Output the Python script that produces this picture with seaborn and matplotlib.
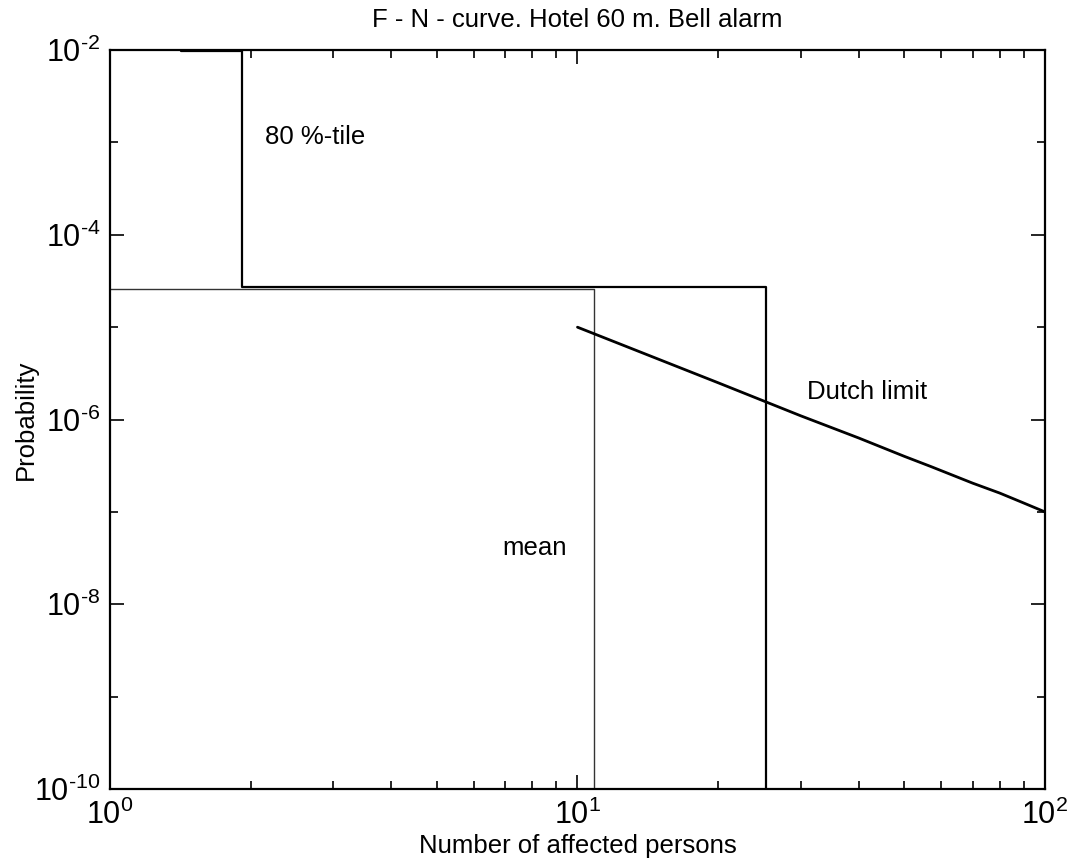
import numpy as np
import pandas as pd
import matplotlib
matplotlib.use("Agg")
import matplotlib.pyplot as plt
import matplotlib.ticker as mticker
import seaborn as sns

# 80 %-tile step curve (corner points)
p80_n = [1.42, 1.92, 1.92, 25.3, 25.3]
p80_f = [9.8e-3, 9.8e-3, 2.75e-5, 2.75e-5, 1e-10]

# mean step curve
mean_n = [1.0, 10.85, 10.85]
mean_f = [2.62e-5, 2.62e-5, 1e-10]

# Dutch limit line
dutch_n = [10, 20, 30, 40, 50, 57, 70, 80, 90, 100]
dutch_f = [1.0e-5, 2.5e-6, 1.1e-6, 6.3e-7, 4.0e-7, 3.1e-7, 2.05e-7, 1.6e-7, 1.25e-7, 1.0e-7]

sns.set_style("ticks")
plt.rcParams['font.family'] = ['Liberation Sans', 'DejaVu Sans']
plt.rcParams['mathtext.fontset'] = 'custom'
plt.rcParams['mathtext.rm'] = 'Liberation Sans'
plt.rcParams['mathtext.it'] = 'Liberation Sans'
for k in ['text.color', 'axes.labelcolor', 'xtick.color', 'ytick.color', 'axes.edgecolor']:
    plt.rcParams[k] = 'black'

fs = 18.5

df80 = pd.DataFrame({'n': p80_n, 'f': p80_f})
dfm = pd.DataFrame({'n': mean_n, 'f': mean_f})
dfd = pd.DataFrame({'n': dutch_n, 'f': dutch_f})

fig, ax = plt.subplots(figsize=(10.75, 8.64), dpi=100)
fig.subplots_adjust(left=0.1023, right=0.9721, top=0.942, bottom=0.0868)

sns.lineplot(x='n', y='f', data=dfm, ax=ax, sort=False, estimator=None, color='#333333', linewidth=1.0)
sns.lineplot(x='n', y='f', data=df80, ax=ax, sort=False, estimator=None, color='black', linewidth=1.6)
sns.lineplot(x='n', y='f', data=dfd, ax=ax, sort=False, estimator=None, color='black', linewidth=2.0)

ax.set_xscale('log')
ax.set_yscale('log')
ax.set_xlim(1, 100)
ax.set_ylim(1e-10, 1e-2)


def pow_fmt(v, pos):
    e = int(round(np.log10(v)))
    if e < 0:
        return r'$\mathdefault{10^{\text{-}%d}}$' % (-e)
    return r'$\mathdefault{10^{%d}}$' % e


ax.yaxis.set_major_locator(mticker.FixedLocator([1e-10, 1e-8, 1e-6, 1e-4, 1e-2]))
ax.yaxis.set_minor_locator(mticker.FixedLocator([1e-9, 1e-7, 1e-5, 1e-3]))
ax.yaxis.set_minor_formatter(mticker.NullFormatter())
ax.yaxis.set_major_formatter(mticker.FuncFormatter(pow_fmt))
ax.xaxis.set_major_locator(mticker.FixedLocator([1, 10, 100]))
ax.xaxis.set_minor_locator(mticker.LogLocator(base=10, subs=np.arange(2, 10), numticks=20))
ax.xaxis.set_minor_formatter(mticker.NullFormatter())
ax.xaxis.set_major_formatter(mticker.FuncFormatter(pow_fmt))

ax.tick_params(which='both', direction='in', top=True, right=True, labelsize=22, width=1.2)
ax.tick_params(axis='y', pad=7)
ax.tick_params(axis='x', pad=8)
ax.tick_params(which='major', length=10)
ax.tick_params(which='minor', length=6)
for s in ax.spines.values():
    s.set_linewidth(1.6)

ax.text(2.15, 1.15e-3, '80 %-tile', fontsize=fs, va='center', ha='left')
ax.text(31, 2.0e-6, 'Dutch limit', fontsize=fs, va='center', ha='left')
ax.text(6.9, 4.1e-8, 'mean', fontsize=fs, va='center', ha='left')

ax.set_title('F - N - curve. Hotel 60 m. Bell alarm', fontsize=fs, pad=17)
ax.set_xlabel('Number of affected persons', fontsize=fs, labelpad=2)
ax.set_ylabel('Probability', fontsize=fs, labelpad=-3)

plt.savefig('out.png', dpi=100)
